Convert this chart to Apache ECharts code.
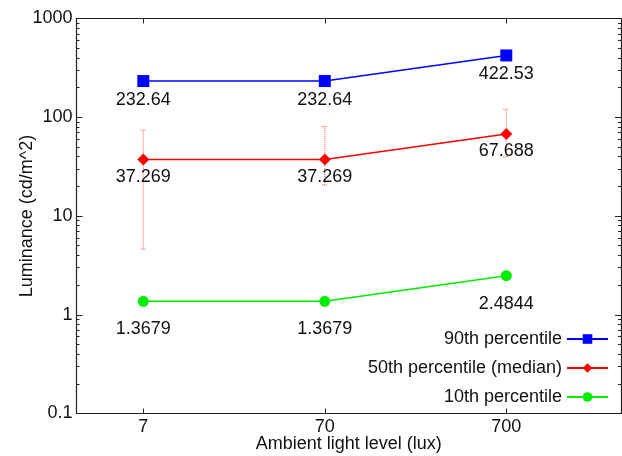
<!DOCTYPE html>
<html>
<head>
<meta charset="utf-8">
<script src="https://cdn.jsdelivr.net/npm/echarts@6/dist/echarts.min.js"></script>
<style>
  html, body { margin: 0; padding: 0; background: #fff; overflow: hidden; }
  #chart { width: 622px; height: 456px; }
</style>
</head>
<body>
<div id="chart"></div>
<script>
// Ambient light levels (lux) on the x axis
const lightLevels = [7, 70, 700];

// Luminance percentiles (cd/m^2)
const p90 = [232.64, 232.64, 422.53];
const p50 = [37.269, 37.269, 67.688];
const p10 = [1.3679, 1.3679, 2.4844];

// Spread of the median at each light level
const p50Low = [4.6, 20.6, 39.9];
const p50High = [74.4, 80.4, 120.7];

// Tick positions
const yMajorTicks = [0.1, 1, 10, 100, 1000];
const yMinorTicks = [];
for (let d = 0.1; d < 1000; d *= 10) {
  for (let k = 2; k <= 9; k++) yMinorTicks.push(+(d * k).toPrecision(3));
}
const xTicks = lightLevels;

const FONT = "'Liberation Sans', Arial, Helvetica, sans-serif";
const TXT = '#111';
const FS = 18;

const chart = echarts.init(document.getElementById('chart'), null, { renderer: 'canvas' });

function pairs(vals) {
  return lightLevels.map((x, i) => [x, vals[i]]);
}

function logAxisBase(extra) {
  return Object.assign({
    type: 'log',
    logBase: 10,
    splitLine: { show: false },
    axisLine: { show: true, lineStyle: { color: '#222', width: 1.2 } },
  }, extra);
}

const yRange = { min: 0.1, max: 1000 };

const option = {
  animation: false,
  backgroundColor: '#fff',
  grid: { left: 76.5, right: 1, top: 18.5, bottom: 42.5, containLabel: false, outerBoundsMode: 'none' },
  legend: {
    orient: 'vertical',
    align: 'right',
    right: 8,
    top: 325,
    itemWidth: 41,
    itemHeight: 12,
    itemGap: 11,
    textStyle: { fontFamily: FONT, fontSize: FS, color: TXT },
    data: ['90th percentile', '50th percentile (median)', '10th percentile'],
  },
  xAxis: [
    logAxisBase({
      position: 'bottom',
      min: 3, max: 3000,
      name: 'Ambient light level (lux)',
      nameLocation: 'middle',
      nameGap: 22,
      nameMoveOverlap: false,
      nameTextStyle: { fontFamily: FONT, fontSize: FS, color: TXT },
      axisTick: { show: true, inside: true, length: 5, customValues: xTicks, lineStyle: { color: '#222' } },
      axisLabel: { show: true, customValues: xTicks, margin: 5, fontFamily: FONT, fontSize: FS, color: TXT,
        formatter: v => String(Math.round(v)) },
    }),
    logAxisBase({
      position: 'top',
      min: 3, max: 3000,
      axisTick: { show: true, inside: true, length: 5, customValues: xTicks, lineStyle: { color: '#222' } },
      axisLabel: { show: false },
    }),
  ],
  yAxis: [
    logAxisBase(Object.assign({
      position: 'left',
      name: 'Luminance (cd/m^2)',
      nameLocation: 'middle',
      nameGap: 40,
      nameMoveOverlap: false,
      nameTextStyle: { fontFamily: FONT, fontSize: FS, color: TXT },
      axisTick: { show: true, inside: true, length: 6, customValues: yMajorTicks, lineStyle: { color: '#222' } },
      axisLabel: { show: true, customValues: yMajorTicks, margin: 4, fontFamily: FONT, fontSize: FS, color: TXT,
        formatter: v => (v < 1 ? v.toFixed(1) : String(Math.round(v))) },
    }, yRange)),
    logAxisBase(Object.assign({
      position: 'left',
      axisLine: { show: false },
      axisTick: { show: true, inside: true, length: 3, customValues: yMinorTicks, lineStyle: { color: '#222' } },
      axisLabel: { show: false },
    }, yRange)),
    logAxisBase(Object.assign({
      position: 'right',
      axisTick: { show: true, inside: true, length: 6, customValues: yMajorTicks, lineStyle: { color: '#222' } },
      axisLabel: { show: false },
    }, yRange)),
    logAxisBase(Object.assign({
      position: 'right',
      axisLine: { show: false },
      axisTick: { show: true, inside: true, length: 3, customValues: yMinorTicks, lineStyle: { color: '#222' } },
      axisLabel: { show: false },
    }, yRange)),
  ],
  series: [
    {
      name: 'median range',
      type: 'custom',
      xAxisIndex: 0,
      yAxisIndex: 0,
      z: 1,
      data: lightLevels.map((x, i) => [x, p50Low[i], p50High[i]]),
      renderItem: function (params, api) {
        const x = api.value(0);
        const lo = api.coord([x, api.value(1)]);
        const hi = api.coord([x, api.value(2)]);
        const half = 3;
        const style = { stroke: 'rgba(255,40,40,0.75)', lineWidth: 1, lineDash: [1, 1], fill: null };
        return {
          type: 'group',
          children: [
            { type: 'line', shape: { x1: lo[0], y1: lo[1], x2: hi[0], y2: hi[1] }, style: style },
            { type: 'line', shape: { x1: hi[0] - half, y1: hi[1], x2: hi[0] + half, y2: hi[1] }, style: style },
            { type: 'line', shape: { x1: lo[0] - half, y1: lo[1], x2: lo[0] + half, y2: lo[1] }, style: style },
          ],
        };
      },
    },
    {
      name: '90th percentile',
      type: 'line',
      z: 3,
      data: pairs(p90),
      symbol: 'rect',
      symbolSize: 12,
      itemStyle: { color: '#0000ff' },
      lineStyle: { color: '#0000ff', width: 1.5 },
      label: { show: true, position: 'inside', offset: [0, 19], fontFamily: FONT, fontSize: FS, color: TXT,
        formatter: p => String(p.value[1]) },
    },
    {
      name: '50th percentile (median)',
      type: 'line',
      z: 3,
      data: pairs(p50),
      symbol: 'diamond',
      symbolSize: 12,
      itemStyle: { color: '#ff0000' },
      lineStyle: { color: '#ff0000', width: 1.5 },
      label: { show: true, position: 'inside', offset: [0, 17], fontFamily: FONT, fontSize: FS, color: TXT,
        formatter: p => String(p.value[1]) },
    },
    {
      name: '10th percentile',
      type: 'line',
      z: 3,
      data: pairs(p10),
      symbol: 'circle',
      symbolSize: 11,
      itemStyle: { color: '#00ee00' },
      lineStyle: { color: '#00ee00', width: 1.5 },
      label: { show: true, position: 'inside', offset: [0, 28], fontFamily: FONT, fontSize: FS, color: TXT,
        formatter: p => String(p.value[1]) },
    },
  ],
};

chart.setOption(option);
</script>
</body>
</html>
